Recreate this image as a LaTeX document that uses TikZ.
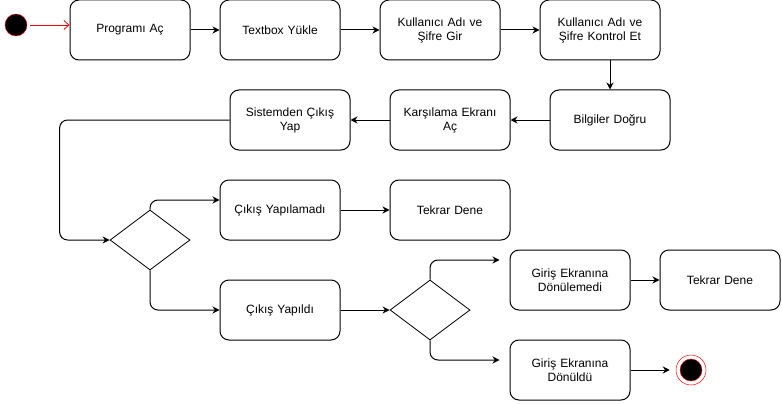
\documentclass[tikz,border=0pt]{standalone}
\usepackage{fontspec}
\setmainfont{Liberation Sans}
\usetikzlibrary{positioning,shapes.geometric,arrows.meta}

\begin{document}
\begin{tikzpicture}[x=1pt,y=-1pt,
			box/.style={draw,rectangle,rounded corners=9pt,line width=1pt,minimum width=120pt,minimum height=60pt,text width=114pt,align=center,inner sep=0pt,font=\fontsize{12}{14}\selectfont},
			choice/.style={draw,diamond,line width=0.8pt,minimum width=80pt,minimum height=60pt,inner sep=0pt},
			flow/.style={-{Stealth[length=7pt,width=7pt]},line width=1pt,rounded corners=8pt},
			startflow/.style={-{Straight Barb[length=5pt,width=9pt]},red,line width=0.8pt}]
			\useasboundingbox (0,0) rectangle (782,404);
			% top row
			\node (start) [circle,fill=black,draw=red,minimum size=22pt,inner sep=0pt] at (16,25) {};
			\node (prog) [box] at (130,30) {Programı Aç};
			\node (textbox) [box] at (280,30) {Textbox Yükle};
			\node (gir) [box] at (440,30) {Kullanıcı Adı ve\\ Şifre Gir};
			\node (kontrol) [box] at (600,30) {Kullanıcı Adı ve\\ Şifre Kontrol Et};
			% second row
			\node (bilgiler) [box] at (610,120) {Bilgiler Doğru};
			\node (karsilama) [box] at (450,120) {Karşılama Ekranı\\ Aç};
			\node (sistemden) [box] at (290,120) {Sistemden Çıkış\\ Yap};
			% first choice
			\node (karar1) [choice] at (150,240) {};
			\node (yapilamadi) [box] at (280,210) {Çıkış Yapılamadı};
			\node (tekrar1) [box] at (450,210) {Tekrar Dene};
			\node (yapildi) [box] at (280,310) {Çıkış Yapıldı};
			% second choice
			\node (karar2) [choice] at (430,310) {};
			\node (donulemedi) [box] at (570,280) {Giriş Ekranına\\ Dönülemedi};
			\node (tekrar2) [box] at (720,280) {Tekrar Dene};
			\node (donuldu) [box] at (570,370) {Giriş Ekranına\\ Dönüldü};
			\node (stop) [circle,draw=red,line width=0.5pt,minimum size=30pt,inner sep=0pt] at (691,370) {};
			\node (stopdot) [circle,fill=black,draw=red,minimum size=22pt,inner sep=0pt] at (stop) {};

			\draw[startflow] ([xshift=3pt]start.east) -- (prog.west |- start);
			\draw[flow] (prog) -- (textbox);
			\draw[flow] (textbox) -- (gir);
			\draw[flow] (gir) -- (kontrol);
			\draw[flow] (kontrol.south -| bilgiler) -- (bilgiler.north);
			\draw[flow] (bilgiler) -- (karsilama);
			\draw[flow] (karsilama) -- (sistemden);
			\draw[flow] (sistemden.west) -| ([xshift=-50pt]karar1.west) -- (karar1.west);
			\draw[flow] (karar1.north) |- ([yshift=10pt]yapilamadi.west);
			\draw[flow] (yapilamadi) -- (tekrar1);
			\draw[flow] (karar1.south) |- (yapildi.west);
			\draw[flow] (yapildi) -- (karar2);
			\draw[flow,shorten >=10pt] (karar2.north) |- ([yshift=20pt]donulemedi.west);
			\draw[flow,shorten >=10pt] (karar2.south) |- ([yshift=10pt]donuldu.west);
			\draw[flow] (donulemedi) -- (tekrar2);
			\draw[flow,shorten >=6pt] (donuldu) -- (stop);
		\end{tikzpicture}
\end{document}
